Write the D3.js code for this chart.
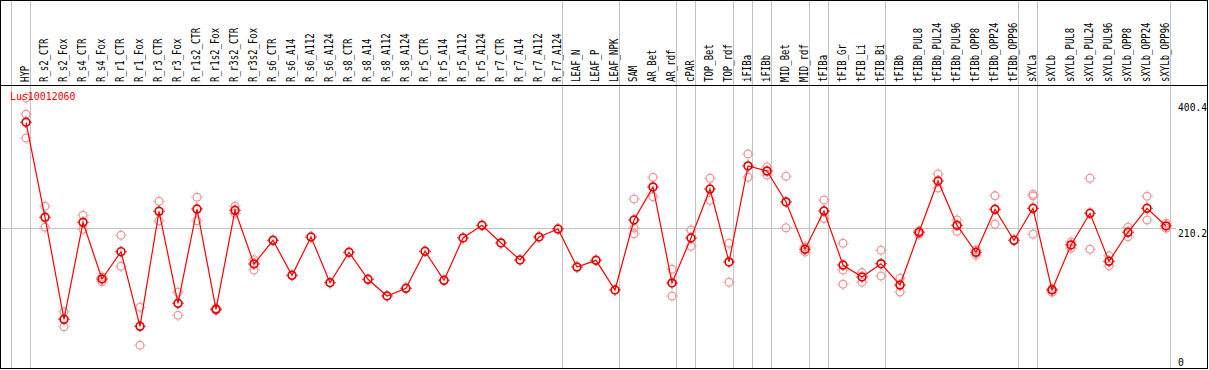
<!DOCTYPE html>
<html><head><meta charset="utf-8">
<script src="https://cdn.jsdelivr.net/npm/d3@7"></script>
<style>html,body{margin:0;padding:0;background:#fff;}svg{display:block;}</style>
</head><body><svg id="chart" width="1209" height="370"></svg>
<script>
const categories = ["HYP","R_s2_CTR","R_s2_Fox","R_s4_CTR","R_s4_Fox","R_r1_CTR","R_r1_Fox","R_r3_CTR","R_r3_Fox","R_r1s2_CTR","R_r1s2_Fox","R_r3s2_CTR","R_r3s2_Fox","R_s6_CTR","R_s6_A14","R_s6_A112","R_s6_A124","R_s8_CTR","R_s8_A14","R_s8_A112","R_s8_A124","R_r5_CTR","R_r5_A14","R_r5_A112","R_r5_A124","R_r7_CTR","R_r7_A14","R_r7_A112","R_r7_A124","LEAF_N","LEAF_P","LEAF_NPK","SAM","AR_Bet","AR_rdf","cPAR","TOP_Bet","TOP_rdf","iFIBa","iFIBb","MID_Bet","MID_rdf","tFIBa","tFIB_Gr","tFIB_Li","tFIB_Bi","tFIBb","tFIBb_PUL8","tFIBb_PUL24","tFIBb_PUL96","tFIBb_OPP8","tFIBb_OPP24","tFIBb_OPP96","sXYLa","sXYLb","sXYLb_PUL8","sXYLb_PUL24","sXYLb_PUL96","sXYLb_OPP8","sXYLb_OPP24","sXYLb_OPP96"];
const meanValues = [369.9,226.8,73.3,219.3,134.0,175.1,62.8,235.9,97.4,239.3,88.4,237.4,156.6,192.2,139.5,197.2,128.4,174.2,133.5,108.4,120.0,175.7,132.0,195.7,214.8,188.2,162.6,197.2,209.2,152.0,162.1,117.4,222.8,272.5,128.0,195.7,269.4,159.6,304.1,296.5,249.9,178.7,236.3,155.0,137.0,157.0,124.9,204.3,281.5,214.8,174.2,238.9,192.2,240.4,117.4,185.2,232.9,160.6,204.3,240.4,213.8];
const rep1 = [406.4,243.4,84.7,229.9,129.9,199.8,91.4,250.9,114.0,257.0,89.9,243.4,163.0,null,null,null,null,null,null,null,null,null,null,null,null,null,null,null,null,null,null,null,254.4,287.1,148.6,207.7,285.6,187.7,322.1,302.6,288.6,182.1,252.9,187.7,143.5,177.2,135.0,201.3,292.0,222.8,177.6,259.4,null,261.5,119.4,189.7,285.6,169.0,211.8,258.5,217.8];
const rep2 = [381.9,211.8,62.2,208.8,137.0,153.1,34.2,221.3,79.3,221.7,86.9,232.9,147.5,null,null,null,null,null,null,null,null,null,null,null,null,null,null,null,null,null,null,null,210.7,257.9,108.4,183.2,252.4,129.0,287.1,290.5,211.2,174.6,225.3,147.5,129.0,138.5,114.4,206.2,270.9,205.8,170.1,216.3,null,258.9,114.0,180.2,178.7,154.0,197.6,222.8,210.3];
const rep3 = [346.2,null,null,null,null,null,null,null,null,null,null,null,null,null,null,null,null,null,null,null,null,null,null,null,null,null,null,null,null,null,null,null,202.2,null,null,null,null,null,null,null,null,null,null,126.0,null,null,null,null,null,null,null,null,null,201.3,null,null,null,null,null,null,null];
const groupEnds = [-1,0,28,31,34,35,37,38,39,41,42,45,52,53,60];
const yTickValues = [400.4, 210.2, 0];
const gridValue = 210.2;
const geneLabel = "Lus10012060";

const svg = d3.select("#chart");
const x = d3.scaleLinear().domain([0, categories.length - 1]).range([26, 1166]);
const y = d3.scaleLinear().domain([0, 400.4]).range([368, 102]);
const gray = "#c4c4c4";
const mono = "'DejaVu Sans Mono', monospace";

svg.append("g").selectAll("line").data(groupEnds).join("line")
  .attr("x1", d => Math.round(x(d) + 4) + 0.5).attr("x2", d => Math.round(x(d) + 4) + 0.5)
  .attr("y1", 0).attr("y2", 369)
  .attr("stroke", gray).attr("stroke-width", 1);

svg.append("line")
  .attr("x1", 1).attr("x2", 1176)
  .attr("y1", Math.round(y(gridValue)) + 0.5).attr("y2", Math.round(y(gridValue)) + 0.5)
  .attr("stroke", gray).attr("stroke-width", 1);

svg.append("rect").attr("x", 0.5).attr("y", 0.5).attr("width", 1207).attr("height", 368)
  .attr("fill", "none").attr("stroke", "#000").attr("stroke-width", 1);
svg.append("line").attr("x1", 0).attr("x2", 1208).attr("y1", 85.5).attr("y2", 85.5)
  .attr("stroke", "#000").attr("stroke-width", 1);

svg.append("g").selectAll("text").data(categories).join("text")
  .attr("transform", (d, i) => `translate(${x(i) + 3},82) rotate(-90) scale(0.75,1)`)
  .attr("font-family", mono).attr("font-size", 12).attr("fill", "#000")
  .text(d => d);

svg.append("g").selectAll("text").data(yTickValues).join("text")
  .attr("transform", d => `translate(1178,${Math.min(y(d) + 8.5, 366)}) scale(0.88,1)`)
  .attr("font-family", mono).attr("font-size", 11).attr("fill", "#000")
  .text(d => d);

function marker(g, cx, cy, color, sw) {
  g.append("circle").attr("cx", cx).attr("cy", cy).attr("r", 3.9)
    .attr("fill", "none").attr("stroke", color).attr("stroke-width", sw);
  const ticks = [[0,-1],[0,1],[-1,0],[1,0]];
  ticks.forEach(([dx, dy]) => {
    g.append("line").attr("x1", cx + dx * 4.5).attr("y1", cy + dy * 4.5)
      .attr("x2", cx + dx * 5.8).attr("y2", cy + dy * 5.8)
      .attr("stroke", color).attr("stroke-width", 1);
  });
}

const repG = svg.append("g");
[rep1, rep2, rep3].forEach(arr => {
  arr.forEach((v, i) => {
    if (v !== null) marker(repG, x(i), y(v), "#ee9a9a", 1.3);
  });
});

const line = d3.line().x((d, i) => x(i)).y(d => y(d));
svg.append("path").datum(meanValues).attr("d", line)
  .attr("fill", "none").attr("stroke", "#ff0000").attr("stroke-width", 1.2);

const meanG = svg.append("g");
meanValues.forEach((v, i) => marker(meanG, x(i), y(v), "#e80000", 1.7));

svg.append("text")
  .attr("transform", "translate(10,100) scale(0.9,1)")
  .attr("font-family", mono).attr("font-size", 11).attr("fill", "#ff0000")
  .text(geneLabel);
</script></body></html>
